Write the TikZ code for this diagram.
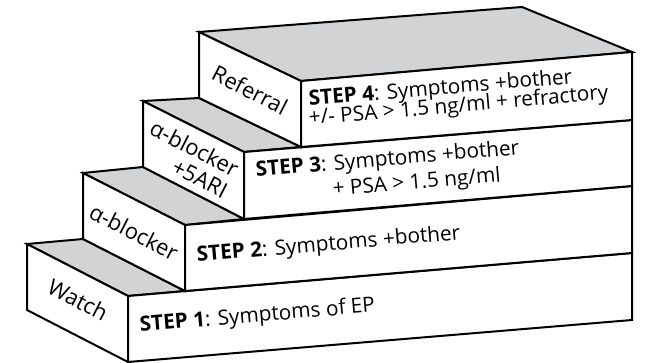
\documentclass[tikz,border=0pt]{standalone}
\usepackage{fontspec}
\setmainfont{Open Sans}
\usepackage{xcolor}
\usepackage{tikz}
\definecolor{topgrey}{RGB}{209,211,212}

\begin{document}
\begin{tikzpicture}[x=0.5pt, y=-0.5pt,
  face/.style={draw=black, line width=1pt, fill=white},
  topface/.style={face, fill=topgrey},
  steptext/.style={font=\fontsize{10.4}{12}\selectfont, anchor=base west,
                   rotate=4.9, inner sep=0pt},
  sidetext/.style={font=\fontsize{11}{12}\selectfont, rotate=-27.2,
                   inner sep=0pt, align=center},
]
  \useasboundingbox (0,0) rectangle (647,363);

  \coordinate (b1) at (27,244);  \coordinate (c1) at (27,310);
  \coordinate (f1) at (128,296); \coordinate (g1) at (128,362);
  \coordinate (r1) at (632,253); \coordinate (s1) at (632,320);

  \coordinate (b2) at (83,173);  \coordinate (c2) at (83,239);
  \coordinate (f2) at (185,225); \coordinate (g2) at (185,291);
  \coordinate (r2) at (632,186);

  \coordinate (b3) at (143,101); \coordinate (c3) at (143,167);
  \coordinate (f3) at (244,152); \coordinate (g3) at (244,219);
  \coordinate (r3) at (632,120);

  \coordinate (b4) at (199,32);  \coordinate (c4) at (199,98);
  \coordinate (f4) at (301,81);  \coordinate (g4) at (301,147);
  \coordinate (r4) at (632,52);  \coordinate (k4) at (522,7);

  \filldraw[topface] (b1) -- (c2) -- (g2) -- (f1) -- cycle;
  \filldraw[face] (b1) -- (f1) -- (g1) -- (c1) -- cycle;
  \filldraw[face] (f1) -- (r1) -- (s1) -- (g1) -- cycle;

  \filldraw[topface] (b2) -- (c3) -- (g3) -- (f2) -- cycle;
  \filldraw[face] (b2) -- (f2) -- (g2) -- (c2) -- cycle;
  \filldraw[face] (f2) -- (r2) -- (r1) -- (g2) -- cycle;

  \filldraw[topface] (b3) -- (c4) -- (g4) -- (f3) -- cycle;
  \filldraw[face] (b3) -- (f3) -- (g3) -- (c3) -- cycle;
  \filldraw[face] (f3) -- (r3) -- (r2) -- (g3) -- cycle;

  \filldraw[topface] (b4) -- (k4) -- (r4) -- (f4) -- cycle;
  \filldraw[face] (b4) -- (f4) -- (g4) -- (c4) -- cycle;
  \filldraw[face] (f4) -- (r4) -- (r3) -- (g4) -- cycle;

  \node[steptext] (step1) at (140,332) {\textbf{STEP 1}: Symptoms of EP};
  \node[steptext] (step2) at (197,262) {\textbf{STEP 2}: Symptoms +bother};
  \node[steptext] (step3a) at (256,177) {\textbf{STEP 3}: Symptoms +bother};
  \node[steptext] (step3b) at (333,196) {+ PSA > 1.5 ng/ml};
  \node[steptext] (step4a) at (309,106) {\textbf{STEP 4}: Symptoms +bother};
  \node[steptext] (step4b) at (309,125) {+/- PSA > 1.5 ng/ml + refractory};

  \node[sidetext] (watch) at (78,300) {Watch};
  \node[sidetext] (ablock) at (134,232) {α-blocker};
  \node[sidetext, align=right] (ablock5) at (189,159) {α-blocker\\+5ARI};
  \node[sidetext] (referral) at (250,90) {Referral};
\end{tikzpicture}
\end{document}
